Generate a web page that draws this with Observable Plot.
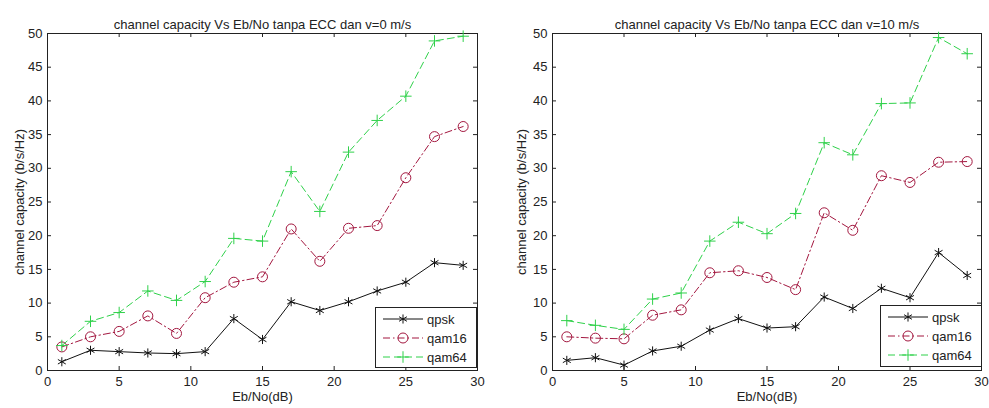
<!DOCTYPE html>
<html><head><meta charset="utf-8">
<script src="https://cdn.jsdelivr.net/npm/d3@7"></script>
<script src="https://cdn.jsdelivr.net/npm/@observablehq/plot@0.6"></script>
<style>
body{margin:0;background:#fff;font-family:"Liberation Sans",Arial,sans-serif}
#wrap{position:relative;width:989px;height:408px;overflow:hidden}
.panel{position:absolute;top:0}
.legend{position:absolute}
</style></head><body><div id="wrap"></div>
<script>
const ebno = [1,3,5,7,9,11,13,15,17,19,21,23,25,27,29];
const seriesNames = ["qpsk","qam16","qam64"];

const qpsk_v0  = [1.3,3.0,2.8,2.6,2.5,2.8,7.7,4.6,10.2,8.9,10.2,11.8,13.1,16.0,15.6];
const qam16_v0 = [3.5,5.0,5.8,8.1,5.5,10.8,13.1,13.9,21.0,16.2,21.1,21.5,28.6,34.7,36.2];
const qam64_v0 = [3.7,7.3,8.6,11.8,10.4,13.2,19.6,19.2,29.5,23.6,32.4,37.1,40.7,48.9,49.6];

const qpsk_v10  = [1.5,1.9,0.8,2.9,3.6,6.0,7.7,6.3,6.5,10.9,9.2,12.2,10.8,17.5,14.1];
const qam16_v10 = [5.0,4.8,4.7,8.2,9.0,14.5,14.8,13.8,12.0,23.4,20.8,28.9,27.9,30.9,31.0];
const qam64_v10 = [7.4,6.7,6.1,10.6,11.5,19.2,22.0,20.3,23.3,33.8,32.0,39.6,39.7,49.4,47.0];

const xTicks = [0,5,10,15,20,25,30];
const yTicks = [0,5,10,15,20,25,30,35,40,45,50];
const titles = ["channel capacity Vs Eb/No tanpa ECC dan v=0 m/s","channel capacity Vs Eb/No tanpa ECC dan v=10 m/s"];
const xLabel = "Eb/No(dB)";
const yLabel = "channel capacity (b/s/Hz)";

const styles = {
  qpsk:  {color:"#111111", dash:null,        symbol:"asterisk", r:4.3, fill:"none"},
  qam16: {color:"#a3173f", dash:"7,3,1.5,3", symbol:"circle",   r:5,   fill:"none"},
  qam64: {color:"#2fd14a", dash:"7,4",       symbol:"plus",     r:3.8, fill:"none"}
};

const panels = [
  {left:0,   width:494, ml:47, mr:17, title:titles[0], labelOffset:33, values:{qpsk:qpsk_v0, qam16:qam16_v0, qam64:qam64_v0},
   legend:{left:375, top:307, w:101, h:60}},
  {left:494, width:495, ml:58, mr:8,  title:titles[1], labelOffset:36, values:{qpsk:qpsk_v10, qam16:qam16_v10, qam64:qam64_v10},
   legend:{left:880, top:305, w:101, h:61}}
];

const H = 408, MT = 33, MB = 38;
const FONT = "'Liberation Sans', Arial, sans-serif";
const wrap = document.getElementById("wrap");

for (const p of panels) {
  const rows = seriesNames.flatMap(s => ebno.map((x,i) => ({series:s, x, y:p.values[s][i]})));
  const plotW = p.width - p.ml - p.mr, plotH = H - MT - MB;
  const marks = [
    Plot.frame({stroke:"#222"}),
    Plot.tickY(yTicks, {y:d=>d, insetRight:plotW-4, stroke:"#222"}),
    Plot.tickY(yTicks, {y:d=>d, insetLeft:plotW-4, stroke:"#222"}),
    Plot.tickX(xTicks, {x:d=>d, insetTop:plotH-4, stroke:"#222"}),
    Plot.tickX(xTicks, {x:d=>d, insetBottom:plotH-4, stroke:"#222"}),
  ];
  for (const s of seriesNames) {
    const st = styles[s];
    const d = rows.filter(r => r.series === s);
    marks.push(Plot.line(d, {x:"x", y:"y", stroke:st.color, strokeWidth:1, strokeDasharray:st.dash}));
    marks.push(Plot.dot(d, {x:"x", y:"y", symbol:st.symbol, r:st.r, stroke:st.color, fill:st.fill, strokeWidth:1}));
  }
  marks.push(
    Plot.axisX({ticks:xTicks, tickSize:0, tickPadding:6, label:xLabel, labelAnchor:"center", labelOffset:30, labelArrow:"none", fontSize:13}),
    Plot.axisY({ticks:yTicks, tickSize:0, tickPadding:5, label:yLabel, labelAnchor:"center", labelOffset:p.labelOffset, labelArrow:"none", fontSize:13}),
    Plot.text([p.title], {text:d=>d, frameAnchor:"top", dy:-14, fontSize:13, fill:"#222"})
  );
  const chart = Plot.plot({
    width:p.width, height:H, marginLeft:p.ml, marginRight:p.mr, marginTop:MT, marginBottom:MB,
    x:{domain:[0,30]}, y:{domain:[0,50]},
    style:{fontFamily:FONT, fontSize:"13px", color:"#222", background:"transparent"},
    marks
  });
  chart.classList.add("panel");
  chart.style.left = p.left + "px";
  wrap.appendChild(chart);

  // legend overlay
  const L = p.legend;
  const svg = d3.select(wrap).append("svg").attr("class","legend")
    .style("left", L.left+"px").style("top", L.top+"px")
    .attr("width", L.w+1).attr("height", L.h+1);
  svg.append("rect").attr("x",0.5).attr("y",0.5).attr("width",L.w).attr("height",L.h)
    .attr("fill","#fff").attr("stroke","#222");
  seriesNames.forEach((s,i) => {
    const st = styles[s];
    const cy = 12 + i*19;
    svg.append("line").attr("x1",8).attr("x2",48).attr("y1",cy).attr("y2",cy)
      .attr("stroke",st.color).attr("stroke-dasharray",st.dash);
    const sym = {asterisk:d3.symbolAsterisk, circle:d3.symbolCircle, plus:d3.symbolPlus}[st.symbol];
    svg.append("path").attr("transform",`translate(28,${cy})`)
      .attr("d", d3.symbol(sym, Math.PI*st.r*st.r)())
      .attr("fill","none").attr("stroke",st.color);
    svg.append("text").attr("x",52).attr("y",cy).attr("dy","0.35em")
      .attr("font-size",13).attr("fill","#222")
      .attr("font-family",FONT).text(s);
  });
}
</script></body></html>
